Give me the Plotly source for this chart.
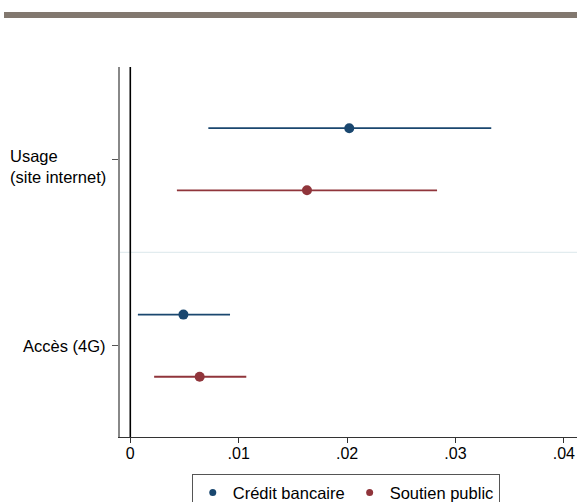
import plotly.graph_objects as go

# Data
categories = ["Usage<br>(site internet)", "Accès (4G)"]
cat_pos = [2, 1]
label_shift = [-7, 0]
series_names = ["Crédit bancaire", "Soutien public"]
series_colors = ["#1a476f", "#90353b"]
series_offsets = [1/6, -1/6]
estimates = [[0.0202, 0.0049], [0.0163, 0.0064]]
ci_low = [[0.0072, 0.0007], [0.0043, 0.0022]]
ci_high = [[0.0333, 0.0092], [0.0283, 0.0107]]
x_tickvals = [0, 0.01, 0.02, 0.03, 0.04]
x_ticktext = ["0", ".01", ".02", ".03", ".04"]

FONT = "Liberation Sans, Arial, sans-serif"
fig = go.Figure()

for name, col, off, est, lo, hi in zip(series_names, series_colors, series_offsets, estimates, ci_low, ci_high):
    fig.add_trace(go.Scatter(
        x=est,
        y=[p + off for p in cat_pos],
        mode="markers",
        name=name,
        showlegend=False,
        marker=dict(color=col, size=10, symbol="circle"),
        error_x=dict(type="data", symmetric=False,
                     array=[h - e for h, e in zip(hi, est)],
                     arrayminus=[e - l for e, l in zip(est, lo)],
                     color=col, thickness=1.8, width=0),
        cliponaxis=False,
    ))
    # legend entry with smaller symbol
    fig.add_trace(go.Scatter(x=[None], y=[None], mode="markers", name=name,
                             marker=dict(color=col, size=7, symbol="circle")))

# y-category labels as left-aligned annotations
for lab, p, ys in zip(categories, cat_pos, label_shift):
    fig.add_annotation(x=-0.0263, xref="paper", y=p, yref="y", text=lab, yshift=ys,
                       showarrow=False, xanchor="right", yanchor="middle", align="left",
                       font=dict(family=FONT, size=16.5, color="#000"))

shapes = [
    # zero line
    dict(type="line", xref="x", yref="paper", x0=0, x1=0, y0=0, y1=1,
         line=dict(color="#000", width=1.6)),
    # separator between groups
    dict(type="line", xref="paper", yref="y", x0=0, x1=1, y0=1.5, y1=1.5,
         line=dict(color="#e2ecef", width=1.2), layer="below"),
    # top decorative band
    dict(type="rect", xref="paper", yref="paper", x0=-0.2538, x1=1.0, y0=1.1324, y1=1.1486,
         fillcolor="#82786f", line=dict(width=0)),
]

fig.update_layout(
    width=577, height=502,
    margin=dict(l=120, r=0, t=67, b=65, autoexpand=False),
    paper_bgcolor="white", plot_bgcolor="white",
    font=dict(family=FONT, size=16, color="#000"),
    shapes=shapes,
    showlegend=True,
    legend=dict(orientation="h", x=0.494, xanchor="center", y=-0.1005, yanchor="top",
                bordercolor="#555", borderwidth=1, font=dict(family=FONT, size=16.5, color="#000")),
    xaxis=dict(range=[-0.00095, 0.04121], tickvals=x_tickvals, ticktext=x_ticktext,
               showgrid=False, zeroline=False, showline=True, linecolor="#333", linewidth=1.2,
               ticks="outside", ticklen=5, tickcolor="#333", ticklabelstandoff=-3,
               tickfont=dict(family=FONT, size=16)),
    yaxis=dict(range=[0.51, 2.495], tickvals=cat_pos, ticktext=["", ""],
               showgrid=False, zeroline=False, showline=True, linecolor="#888", linewidth=1.5,
               ticks="outside", ticklen=6, tickcolor="#555"),
)

fig.write_html("out.html", config={"displayModeBar": False},
               post_script="document.body.style.margin='0px';document.body.style.overflow='hidden';")
